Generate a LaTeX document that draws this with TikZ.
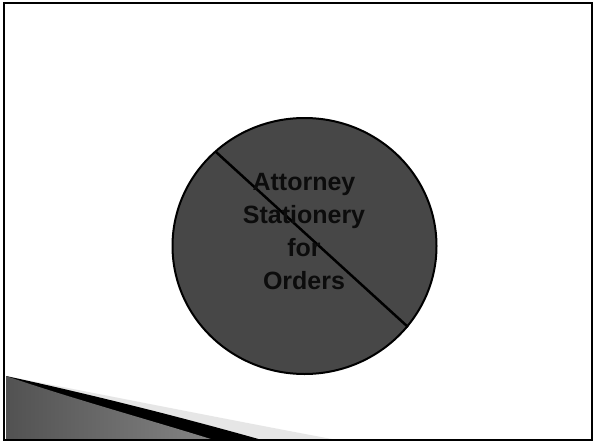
\documentclass[tikz,border=0pt]{standalone}
\usepackage{fontspec}
\setmainfont{Liberation Sans}
\usetikzlibrary{shapes.geometric}
\begin{document}
\begin{tikzpicture}[x=1pt,y=-1pt,
  frame/.style={draw=black,line width=2.5pt},
  disc/.style={ellipse,draw=black,line width=2pt,fill=discgray,minimum width=264pt,minimum height=256pt,inner sep=0pt},
  label/.style={align=center,font=\fontsize{25}{33}\selectfont\bfseries,text=textdark},
  bar/.style={draw=black,line width=2.5pt}]
\definecolor{discgray}{HTML}{474747}
\definecolor{textdark}{HTML}{0C0C0C}
\definecolor{lightband}{HTML}{E6E6E6}
\useasboundingbox (0,0) rectangle (594,444);
\fill[white] (0,0) rectangle (594,444);
% swoosh
\fill[lightband] (6,376) .. controls (120,398) and (230,420) .. (337,440) -- (6,440) -- cycle;
\fill[black] (6,376) .. controls (80,392) and (170,414) .. (262,440) -- (6,440) -- cycle;
\shade[left color=black!68,right color=black!48] (6,376) .. controls (70,398) and (150,420) .. (214,440) -- (6,440) -- cycle;
% disc
\node[disc] (c) at (304.5,246) {};
\coordinate (p) at (216,152);
\coordinate (q) at (408,327);
\draw[bar] (p) -- (q);
\node[label] (t) at (304,232) {Attorney\\Stationery\\for\\Orders};
% frame
\draw[frame] (4,3) rectangle (592,440);
\end{tikzpicture}
\end{document}
